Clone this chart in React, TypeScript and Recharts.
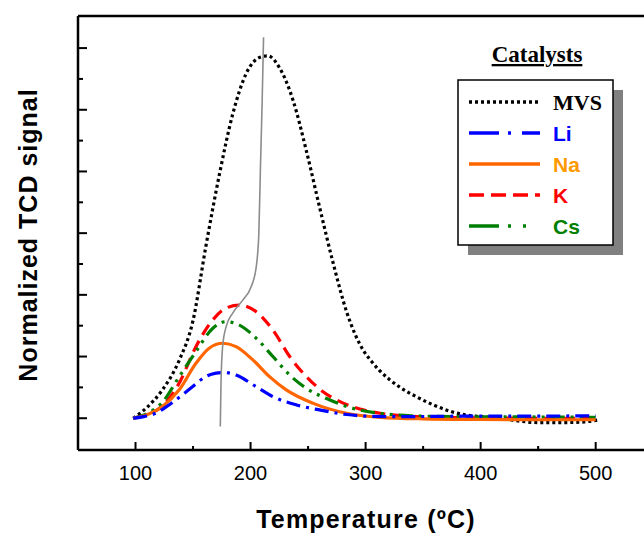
import { LineChart, Line, XAxis, YAxis, ReferenceLine } from 'recharts';

// TPD profiles: [temperature (ºC), normalized TCD signal]
const mvsData = [
  [98, 0], [109, 0.32], [123, 0.9], [138, 1.88], [150, 3.17], [161, 5.54], [173, 7.92],
  [184.5, 9.86], [196, 11.16], [208, 11.7], [215, 11.75], [225, 11.37], [237, 10.3],
  [248.5, 8.67], [260, 6.84], [272, 5.0], [283.5, 3.45], [298, 2.2], [305, 1.85], [312, 1.55],
  [320, 1.28], [330, 1.0], [345, 0.68], [359, 0.43], [374, 0.22], [388, 0.1], [405, 0.04],
  [420, -0.02], [435, -0.1], [450, -0.14], [475, -0.14], [490, -0.12], [503, -0.05],
];
const liData = [
  [98, 0], [108, 0.06], [117.5, 0.16], [126, 0.35], [135, 0.59], [149.5, 1.02], [161, 1.35],
  [170, 1.46], [175.7, 1.48], [181, 1.47], [187.4, 1.4], [205, 1.02], [219.4, 0.7], [240, 0.43],
  [260, 0.27], [283.5, 0.12], [305, 0.06], [330, 0.05], [360, 0.06], [400, 0.07], [450, 0.07],
  [500, 0.08],
];
const naData = [
  [98, 0], [108.8, 0.1], [123.3, 0.38], [138, 0.92], [152.5, 1.78], [164, 2.27], [175.7, 2.43],
  [187.4, 2.32], [202, 1.89], [216.5, 1.35], [231, 0.92], [254, 0.49], [283.5, 0.16],
  [312.6, 0.03], [350, -0.02], [400, -0.04], [450, -0.05], [500, -0.05],
];
const kData = [
  [98, 0], [110, 0.12], [123, 0.38], [138, 1.14], [152.5, 2.32], [167, 3.18], [178.7, 3.57],
  [190.3, 3.67], [205, 3.45], [219.4, 2.86], [234, 2.0], [248.5, 1.35], [263, 0.86],
  [280.5, 0.49], [298, 0.27], [312.6, 0.16], [340, 0.06], [380, 0.02], [450, 0.0], [500, 0.0],
];
const csData = [
  [98, 0], [110, 0.15], [123, 0.5], [138, 1.35], [152.5, 2.16], [167, 2.91], [178.7, 3.13],
  [190.3, 3.02], [205, 2.59], [219.4, 2.0], [234, 1.4], [248.5, 0.97], [269, 0.59], [289, 0.32],
  [312.6, 0.16], [340, 0.08], [380, 0.05], [450, 0.04], [500, 0.03],
];
// thin grey guide curve through the peak maxima
const guideData = [
  [173.7, -0.27], [174.3, 1.14], [175.7, 2.32], [178.7, 2.96], [184.5, 3.41], [193.2, 3.83],
  [200.5, 4.26], [204.9, 4.9], [207.2, 6.0], [208.6, 8.14], [210.1, 10.3], [211.3, 12.35],
];

const xTicks = [100, 150, 200, 250, 300, 350, 400, 450, 500];
const yTicks = [0, 1, 2, 3, 4, 5, 6, 7, 8, 9, 10, 11, 12];
const X_DOMAIN: [number, number] = [50, 542];
const Y_DOMAIN: [number, number] = [-1.03, 13.04];

const series = [
  { name: 'MVS', data: mvsData, color: '#000000', text: '#000000', dash: '3 3', serif: true },
  { name: 'K', data: kData, color: '#ff0000', text: '#ff0000', dash: '12 7', serif: false },
  { name: 'Cs', data: csData, color: '#007f00', text: '#007f00', dash: '14 6 3 6 3 6', serif: false },
  { name: 'Na', data: naData, color: '#ff6600', text: '#ff9900', dash: undefined, serif: false },
  { name: 'Li', data: liData, color: '#0000ff', text: '#0000ff', dash: '14 6 3 6', serif: false },
];
const legendOrder = ['MVS', 'Li', 'Na', 'K', 'Cs'];
const legendDash: Record<string, string | undefined> = {
  MVS: '3 3',
  Li: '30 9 3 11',
  Na: undefined,
  K: '15 7',
  Cs: '30 9 3 12 3 20',
};

const toPoints = (rows: number[][]) => rows.map(([t, v]) => ({ t, v }));

const SANS = '"Liberation Sans", Arial, sans-serif';
const SERIF = '"Liberation Serif", "Times New Roman", serif';

function XTick(props: any) {
  const { x, y, payload } = props;
  const major = payload.value % 100 === 0;
  return (
    <g>
      <line x1={x} x2={x} y1={y} y2={y - (major ? 8 : 4)} stroke="#000" strokeWidth={2} />
      {major && (
        <text x={x} y={y + 30} textAnchor="middle" fontFamily={SANS} fontSize={20} fill="#000">
          {payload.value}
        </text>
      )}
    </g>
  );
}

function YTick(props: any) {
  const { x, y, payload } = props;
  const major = payload.value % 2 === 0;
  return <line x1={x} x2={x + (major ? 9 : 5)} y1={y} y2={y} stroke="#000" strokeWidth={2} />;
}

function Legend() {
  const rows = legendOrder.map((n) => series.find((s) => s.name === n)!);
  return (
    <div style={{ position: 'absolute', left: 440, top: 30, width: 204, height: 240 }}>
      <svg width={204} height={240}>
        <text x={97} y={32} textAnchor="middle" fontFamily={SERIF} fontWeight="bold" fontSize={23}
          textDecoration="underline">
          Catalysts
        </text>
        <rect x={28} y={60} width={155} height={165} fill="#808080" />
        <rect x={18} y={50} width={155} height={165} fill="#fff" stroke="#000" strokeWidth={1.5} />
        {rows.map((s, i) => {
          const cy = 72 + i * 31;
          return (
            <g key={s.name}>
              <line x1={29} x2={100} y1={cy} y2={cy} stroke={s.color} strokeWidth={3.5}
                strokeDasharray={legendDash[s.name]} />
              <text x={113} y={cy + 8} fontFamily={s.serif ? SERIF : SANS} fontWeight="bold"
                fontSize={s.serif ? 22 : 21} fill={s.text}>
                {s.name}
              </text>
            </g>
          );
        })}
      </svg>
    </div>
  );
}

export default function App() {
  return (
    <div style={{ position: 'absolute', left: 0, top: 0, width: 644, height: 535, background: '#fff' }}>
      <LineChart width={644} height={535} margin={{ top: 16, right: 0, left: 0, bottom: 0 }}>
        <XAxis
          type="number"
          dataKey="t"
          domain={X_DOMAIN}
          ticks={xTicks}
          allowDataOverflow
          height={85}
          tickSize={0}
          tickMargin={0}
          tickLine={false}
          axisLine={{ stroke: '#000', strokeWidth: 2.5 }}
          tick={<XTick />}
          label={() => (
            <text x={366} y={528} textAnchor="middle" fontFamily={SANS} fontWeight="bold"
              fontSize={25} letterSpacing={1.2} fill="#000">
              Temperature (ºC)
            </text>
          )}
        />
        <YAxis
          type="number"
          dataKey="v"
          domain={Y_DOMAIN}
          ticks={yTicks}
          allowDataOverflow
          width={78}
          tickSize={0}
          tickMargin={0}
          tickLine={false}
          axisLine={{ stroke: '#000', strokeWidth: 2.5 }}
          tick={<YTick />}
          label={() => (
            <text x={37} y={235} transform="rotate(-90 37 235)" textAnchor="middle" fontFamily={SANS}
              fontWeight="bold" fontSize={25} letterSpacing={1} fill="#000">
              Normalized TCD signal
            </text>
          )}
        />
        <ReferenceLine y={Y_DOMAIN[1]} stroke="#000" strokeWidth={2.5} />
        {series.map((s) => (
          <Line
            key={s.name}
            data={toPoints(s.data)}
            dataKey="v"
            type="monotone"
            stroke={s.color}
            strokeWidth={3.2}
            strokeDasharray={s.dash}
            dot={false}
            activeDot={false}
            isAnimationActive={false}
          />
        ))}
        <Line
          data={toPoints(guideData)}
          dataKey="v"
          type="monotone"
          stroke="#8c8c8c"
          strokeWidth={1.6}
          dot={false}
          activeDot={false}
          isAnimationActive={false}
        />
      </LineChart>
      <Legend />
    </div>
  );
}
